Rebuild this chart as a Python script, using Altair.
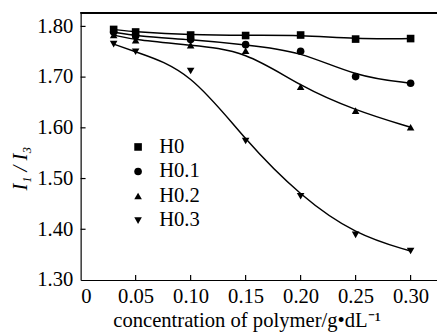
import altair as alt
import pandas as pd

conc = [0.03, 0.05, 0.10, 0.15, 0.20, 0.25, 0.30]
h0 = [1.794, 1.789, 1.783, 1.782, 1.783, 1.775, 1.776]
h01 = [1.789, 1.781, 1.774, 1.764, 1.751, 1.701, 1.688]
h02 = [1.783, 1.773, 1.763, 1.752, 1.681, 1.634, 1.601]
h03 = [1.765, 1.750, 1.712, 1.574, 1.465, 1.389, 1.357]
series = ["H0", "H0.1", "H0.2", "H0.3"]
shapes = ["square", "circle", "triangle-up", "triangle-down"]
xticks = [0, 0.05, 0.10, 0.15, 0.20, 0.25, 0.30]
yticks = [1.30, 1.40, 1.50, 1.60, 1.70, 1.80]

rows = []
for name, vals in zip(series, [h0, h01, h02, h03]):
    for c, v in zip(conc, vals):
        rows.append({"c": c, "r": v, "s": name})
df = pd.DataFrame(rows)

FONT = "Liberation Serif"
W, H = 363, 272

xs = alt.Scale(domain=[0, 0.324], nice=False, zero=False)
ys = alt.Scale(domain=[1.30, 1.8265], nice=False, zero=False)

xenc = alt.X("c:Q", scale=xs, axis=alt.Axis(
    values=xticks, labelExpr="datum.value == 0 ? '0' : format(datum.value, '.2f')",
    title="concentration of polymer/g\u2022dL\u207b\u00b9", grid=False, ticks=False,
    domainColor="black", domainWidth=1.2, labelColor="black", labelFont=FONT, labelFontSize=21,
    labelPadding=6, titleFont=FONT, titleFontSize=21, titleFontWeight="normal", titleColor="black",
    titleX=169, titleY=47, titleBaseline="alphabetic", titleAlign="center"))
yenc = alt.Y("r:Q", scale=ys, axis=alt.Axis(
    values=yticks, format=".2f", title="I\u2081 / I\u2083", grid=False, ticks=False,
    domainColor="black", domainWidth=1.2, labelColor="black", labelFont=FONT, labelFontSize=21,
    labelPadding=8, titleFont=FONT, titleFontSize=21, titleFontWeight="normal",
    titleFontStyle="italic", titleColor="black",
    titleX=-55, titleY=158, titleBaseline="alphabetic", titleAlign="center", titleAngle=-90))

shape = alt.Shape("s:N", scale=alt.Scale(domain=series, range=shapes), legend=alt.Legend(
    title=None, orient="none", legendX=48, legendY=126, labelFont=FONT, labelFontSize=21,
    labelColor="black", symbolFillColor="black", symbolStrokeColor="black", symbolSize=60,
    symbolStrokeWidth=0, rowPadding=3, labelOffset=11))

lines = alt.Chart(df).mark_line(interpolate="basis", color="black", strokeWidth=1.5).encode(
    x=xenc, y=yenc, detail="s:N")
pts = alt.Chart(df).mark_point(filled=True, size=60, opacity=1, color="black").encode(
    x="c:Q", y="r:Q", shape=shape)

xtickdf = pd.DataFrame({"t": xticks[1:]})
ytickdf = pd.DataFrame({"t": yticks[1:]})
xt = alt.Chart(xtickdf).mark_rule(color="black", strokeWidth=1.2).encode(
    x=alt.X("t:Q", scale=xs), y=alt.value(H), y2=alt.value(H - 5))
yt = alt.Chart(ytickdf).mark_rule(color="black", strokeWidth=1.2).encode(
    y=alt.Y("t:Q", scale=ys), x=alt.value(0), x2=alt.value(5))
top = alt.Chart(xtickdf).mark_rule(color="black", strokeWidth=1.2).encode(
    x=alt.value(0), x2=alt.value(W), y=alt.value(0))

chart = alt.layer(lines, pts, xt, yt, top).properties(
    width=W, height=H,
    padding={"left": 74, "top": 2, "right": 0, "bottom": 53},
    autosize=alt.AutoSizeParams(type="none"),
).configure(background="white", font=FONT).configure_view(stroke=None).configure_axis(
    labelFont=FONT, titleFont=FONT).configure_legend(labelFont=FONT)

chart.save("out.html", embed_options={"renderer": "svg", "actions": False})
